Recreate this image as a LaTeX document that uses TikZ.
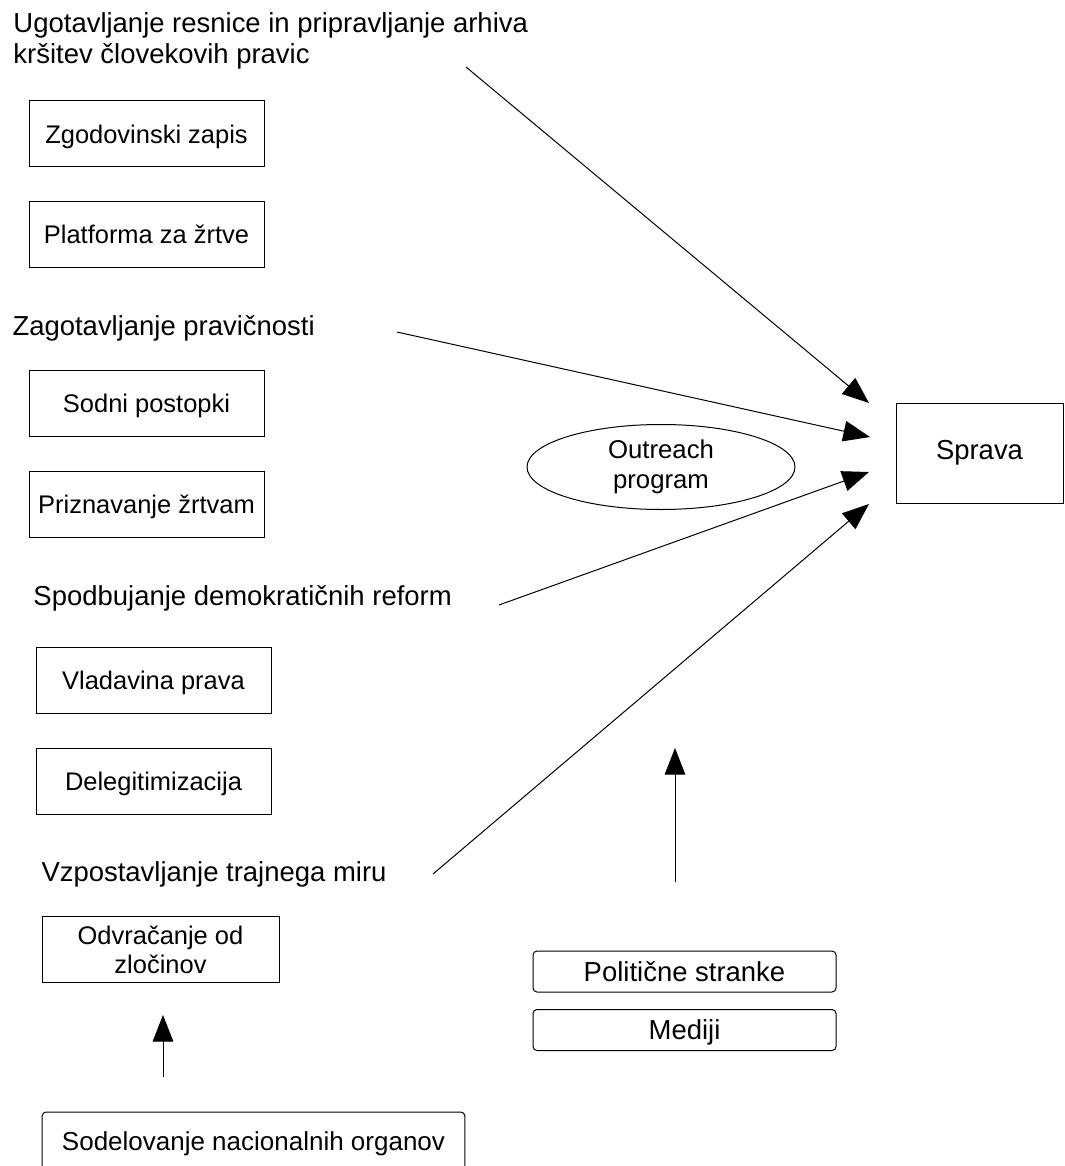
\documentclass[tikz,border=0pt]{standalone}
\usepackage{fontspec}
\setmainfont{Liberation Sans}
\usetikzlibrary{arrows.meta,shapes.geometric}

\begin{document}
\begin{tikzpicture}[
x=0.75pt,
y=-0.75pt,
line width=0.75pt,
every node/.style={inner sep=0pt},
frame/.style={
draw,
minimum width=176.25pt,
minimum height=49.5pt,
font=\fontsize{19.1}{21.75}\selectfont
},
box/.style={
frame,
text height=13.7pt,
text depth=0pt
},
pill/.style={
draw,
rounded corners=3pt,
minimum width=227.25pt,
minimum height=30.75pt,
font=\fontsize{20.6}{24}\selectfont,
text height=14.8pt,
text depth=0pt
},
head/.style={
anchor=base west,
font=\fontsize{20.6}{23.25}\selectfont
},
link/.style={-{Triangle[length=20pt,width=15.5pt]}}
]

\useasboundingbox (0,0) rectangle (1064,1166);

\node[anchor=north west, align=left, font=\fontsize{20.6}{23.25}\selectfont] (istina) at (13,12.3)
{Ugotavljanje resnice in pripravljanje arhiva\\ kršitev človekovih pravic};

\node[box] (zapis) at (146.5,134)
{Zgodovinski zapis};

\node[box] (platforma) at (146.5,234.5)
{Platforma za žrtve};

\node[head] (pravicnost) at (12,335)
{Zagotavljanje pravičnosti};

\node[box] (sodni) at (146.5,403.5)
{Sodni postopki};

\node[box] (priznanje) at (146.5,504.5)
{Priznavanje žrtvam};

\node[head] (reforme) at (33,605)
{Spodbujanje demokratičnih reform};

\node[box] (vladavina) at (153.5,680.5)
{Vladavina prava};

\node[box] (delegit) at (153.5,781)
{Delegitimizacija};

\node[head] (mir) at (41,881)
{Vzpostavljanje trajnega miru};

\node[frame, align=center, minimum width=177.75pt] (odvracanje) at (160.5,949.5)
{Odvračanje od\\zločinov};

\node[pill, minimum width=317pt, minimum height=43.5pt,
font=\fontsize{19.5}{23}\selectfont] (organi) at (253.5,1141)
{Sodelovanje nacionalnih organov};

\node[draw, ellipse, minimum width=201pt, minimum height=63.75pt, align=center,
font=\fontsize{19.3}{22.5}\selectfont] (outreach) at (661,467)
{Outreach\\program};

\node[draw, minimum width=125.25pt, minimum height=75pt,
font=\fontsize{20.6}{24}\selectfont] (sprava) at (979.5,453)
{Sprava};

\node[pill] (stranke) at (684.5,971.5)
{Politične stranke};

\node[pill] (mediji) at (684.5,1030)
{Mediji};

% free ends of the connectors
\coordinate (i1) at (466,67);
\coordinate (i2) at (397,332);
\coordinate (i3) at (499,605);
\coordinate (i4) at (433,874);
\coordinate (s1) at (869,403);
\coordinate (s2) at (870,437);
\coordinate (s3) at (869,472);
\coordinate (s4) at (869,504);
\coordinate (p0) at (675,882);
\coordinate (p1) at (675,748);
\coordinate (n0) at (163,1077);
\coordinate (n1) at (163,1015);

\draw[link] (i1) -- (s1);
\draw[link] (i2) -- (s2);
\draw[link] (i3) -- (s3);
\draw[link] (i4) -- (s4);
\draw[link] (p0) -- (p1);
\draw[link] (n0) -- (n1);

\end{tikzpicture}
\end{document}
